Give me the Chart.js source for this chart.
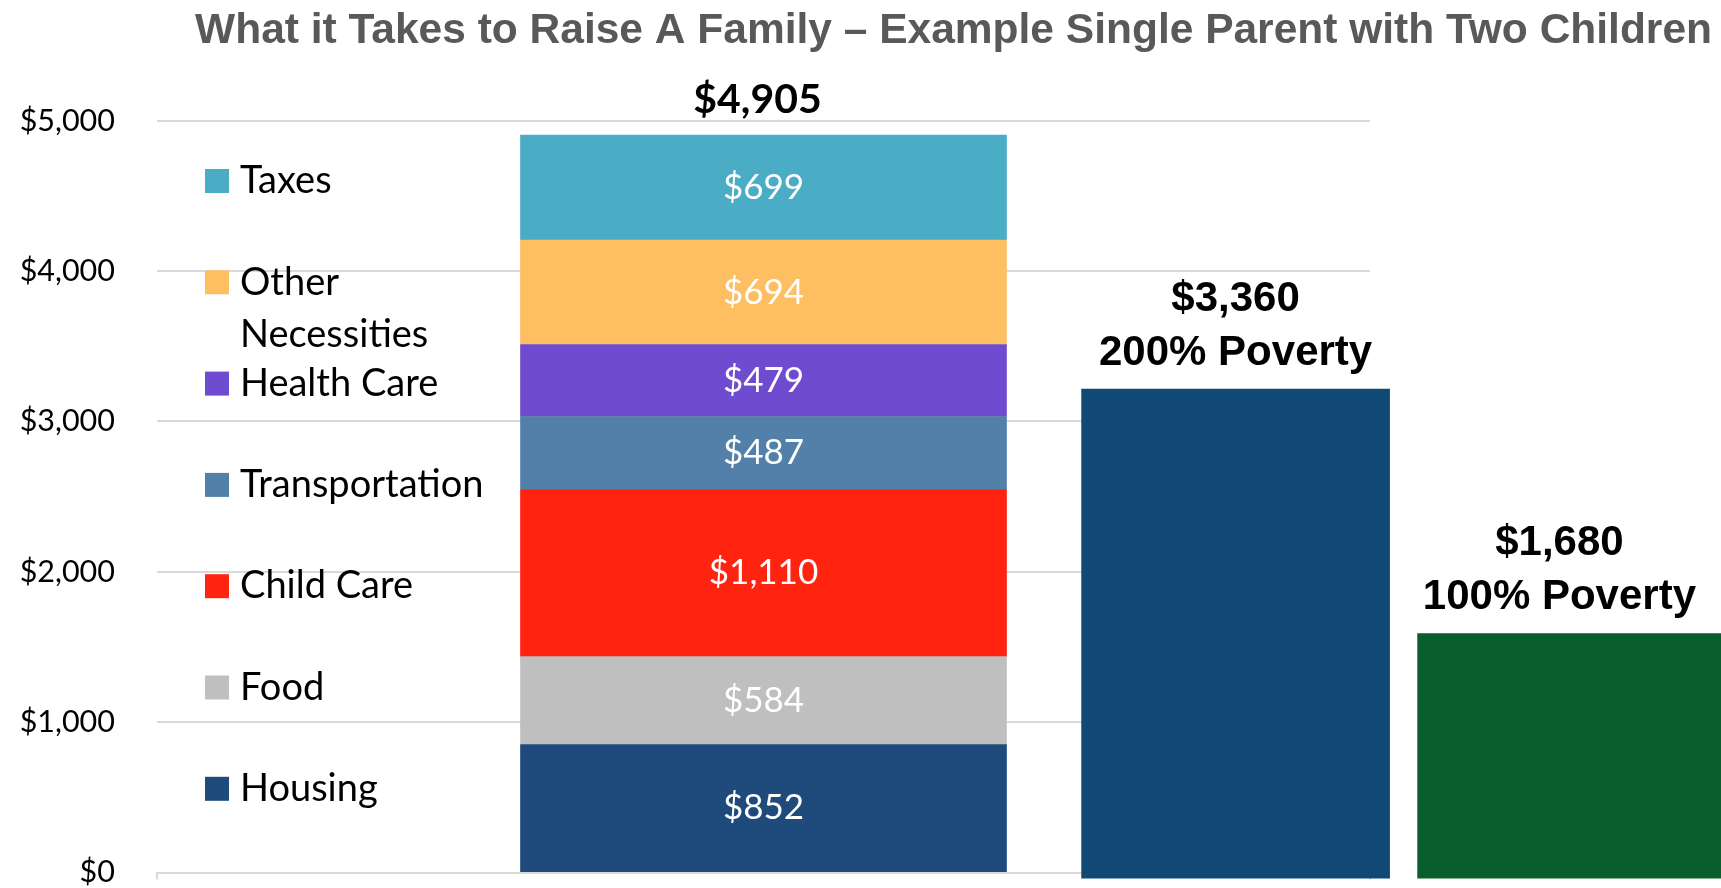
<!DOCTYPE html>
<html lang="en">
  <head>
    <meta charset="UTF-8" />
    <title>What it Takes to Raise A Family</title>
    <script src="https://cdn.jsdelivr.net/npm/chart.js"></script>
    <style>
      html,
      body {
        margin: 0;
        padding: 0;
        background: #ffffff;
      }
    </style>
  </head>

  <body>
    <canvas id="grafica" width="1721" height="888"></canvas>
    <script>
      // stacked budget bar, bottom to top
      const budgetCategory = ["Family Budget"];
      const expenseLabels = ["Housing", "Food", "Child Care", "Transportation", "Health Care", "Other Necessities", "Taxes"];
      const expenseValues = [852, 584, 1110, 487, 479, 694, 699];
      const expenseColors = ["#1F4A7C", "#BFBFBF", "#FF2310", "#5380A8", "#6F4BD0", "#FEBE62", "#4BACC6"];

      // poverty reference bars
      const povertyLabels = ["200% Poverty", "100% Poverty"];
      const povertyValues = [3360, 1680];
      const povertyColors = ["#104A74", "#085F2B"];

      const yTicks = [0, 1000, 2000, 3000, 4000, 5000];

      const TITLE = "What it Takes to Raise A Family \u2013 Example Single Parent with Two Children";

      function money(v) {
        return "$" + Number(v).toLocaleString("en-US");
      }

      // split a label into lines that fit maxWidth
      function wrapText(ctx, text, maxWidth) {
        if (ctx.measureText(text).width <= maxWidth) return [text];
        var words = text.split(" ");
        var lines = [];
        var line = "";
        words.forEach(function (w) {
          var test = line ? line + " " + w : w;
          if (line && ctx.measureText(test).width > maxWidth) {
            lines.push(line);
            line = w;
          } else {
            line = test;
          }
        });
        if (line) lines.push(line);
        return lines;
      }

      // legend drawn inside the plot area, left side
      const sideLegend = {
        id: "sideLegend",
        afterDatasetsDraw(chart, args, opts) {
          const ctx = chart.ctx;
          const area = chart.chartArea;
          const items = chart.data.datasets.filter((ds) => !ds.isPoverty).reverse();
          ctx.save();
          ctx.font = opts.font;
          ctx.textAlign = "left";
          ctx.textBaseline = "middle";
          items.forEach(function (ds, i) {
            const y = area.top + opts.firstRow + i * opts.rowStep;
            const x = area.left + opts.indent;
            ctx.fillStyle = ds.backgroundColor;
            ctx.fillRect(x, y - opts.box / 2, opts.box, opts.box);
            ctx.fillStyle = "#000000";
            wrapText(ctx, ds.label, opts.maxWidth).forEach(function (line, k) {
              ctx.fillText(line, x + opts.box + opts.gap, y + k * opts.lineStep);
            });
          });
          ctx.restore();
        },
      };

      // value labels on and above the bars
      const barLabels = {
        id: "barLabels",
        afterDatasetsDraw(chart) {
          const ctx = chart.ctx;
          ctx.save();
          ctx.textAlign = "center";
          ctx.textBaseline = "middle";

          ctx.font = "35px Lato";
          ctx.fillStyle = "#ffffff";
          let topBar = null;
          chart.data.datasets.forEach(function (ds, i) {
            if (ds.isPoverty) return;
            const bar = chart.getDatasetMeta(i).data[0];
            ctx.fillText(money(ds.data[0]), bar.x, (bar.y + bar.base) / 2);
            if (!topBar || bar.y < topBar.y) topBar = bar;
          });

          const total = expenseValues.reduce((a, b) => a + b, 0);
          ctx.font = "bold 41px Lato";
          ctx.fillStyle = "#000000";
          ctx.fillText(money(total), topBar.x - 6, topBar.y - 35);

          ctx.font = "bold 42px 'Liberation Sans'";
          const pIndex = chart.data.datasets.findIndex((ds) => ds.isPoverty);
          chart.getDatasetMeta(pIndex).data.forEach(function (bar, j) {
            const lines = [money(povertyValues[j]), povertyLabels[j]];
            const w = Math.max.apply(null, lines.map((t) => ctx.measureText(t).width));
            // keep the block inside the canvas
            const x = Math.min(bar.x, chart.width - w / 2 - 25);
            ctx.fillText(lines[0], x, bar.y - 90);
            ctx.fillText(lines[1], x, bar.y - 36);
          });
          ctx.restore();
        },
      };

      const datasets = expenseLabels.map(function (label, i) {
        return {
          label: label,
          data: [expenseValues[i]],
          backgroundColor: expenseColors[i],
          borderWidth: 0,
          barThickness: 486,
          grouped: false,
          xAxisID: "x",
          yAxisID: "y",
          stack: "budget",
        };
      });

      datasets.push({
        label: "Poverty",
        isPoverty: true,
        data: povertyValues.map((v, i) => ({ x: i, y: v })),
        backgroundColor: povertyColors,
        borderWidth: 0,
        barThickness: 308,
        grouped: false,
        xAxisID: "x2",
        yAxisID: "y2",
        clip: false,
      });

      const ctx = document.getElementById("grafica").getContext("2d");

      new Chart(ctx, {
        type: "bar",
        data: {
          labels: budgetCategory,
          datasets: datasets,
        },
        options: {
          responsive: false,
          animation: false,
          layout: {
            padding: { left: 0, right: 9, top: 0, bottom: 0 },
          },
          scales: {
            x: {
              type: "category",
              stacked: true,
              offset: true,
              grid: {
                display: true,
                drawOnChartArea: false,
                drawTicks: true,
                tickLength: 7,
                color: "#d9d9d9",
                lineWidth: 2,
                offset: true,
              },
              border: { display: true, color: "#d9d9d9", width: 2 },
              ticks: { display: false },
              afterFit: (s) => {
                s.height = 15.4;
              },
            },
            x2: {
              type: "linear",
              display: false,
              offset: false,
              min: -3.21,
              max: 0.4,
            },
            y: {
              type: "linear",
              position: "left",
              stacked: true,
              min: 0,
              max: 5000,
              afterBuildTicks: (s) => {
                s.ticks = yTicks.map((v) => ({ value: v }));
              },
              ticks: {
                padding: 42,
                color: "#000000",
                font: { family: "Lato", size: 30.5 },
                callback: (v) => money(v),
              },
              grid: { color: "#d9d9d9", lineWidth: 2, drawTicks: false },
              border: { display: false },
              afterFit: (s) => {
                s.width = 157;
                // the label padding should not push the plot area inwards
                s.paddingTop = 0;
                s.paddingBottom = 0;
              },
            },
            y2: {
              type: "linear",
              position: "right",
              min: 39.1,
              max: 5203.2,
              ticks: { display: false },
              grid: { display: false },
              border: { display: false },
              afterFit: (s) => {
                s.width = 342;
              },
            },
          },
          plugins: {
            legend: { display: false },
            tooltip: { enabled: false },
            title: {
              display: true,
              text: TITLE,
              align: "end",
              color: "#595959",
              font: { family: "Liberation Sans", size: 42.5, weight: "bold" },
              padding: { top: 5.5, bottom: 64.2 },
            },
            sideLegend: {
              font: "38px Lato",
              firstRow: 60.3,
              rowStep: 101.3,
              indent: 48,
              box: 24,
              gap: 11,
              lineStep: 52,
              maxWidth: 270,
            },
          },
        },
        plugins: [sideLegend, barLabels],
      });
    </script>
  </body>
</html>
